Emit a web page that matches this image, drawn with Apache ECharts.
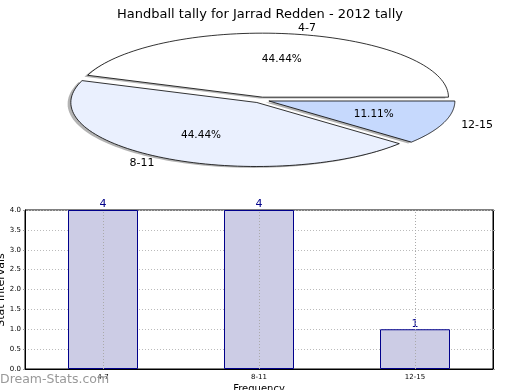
<!DOCTYPE html>
<html>
<head>
<meta charset="utf-8">
<script src="https://cdn.jsdelivr.net/npm/echarts@6/dist/echarts.min.js"></script>
<style>
html,body{margin:0;padding:0;background:#fff;}
#chart{width:520px;height:390px;}
</style>
</head>
<body>
<div id="chart"></div>
<script>
// ---- data ----
const titleText = 'Handball tally for Jarrad Redden - 2012 tally';
const pieLabels = ['4-7', '8-11', '12-15'];
const pieValues = [4, 4, 1];
const barCategories = ['4-7', '8-11', '12-15'];
const barValues = [4, 4, 1];
const yAxisName = 'Stat intervals';
const xAxisName = 'Frequency';
const watermark = 'Dream-Stats.com';

// ---- style ----
const pieColors = ['#ffffff', '#eaf0fe', '#c6d9fd'];
const FONT = 'DejaVu Sans';
const CX = 261, CY = 100, RX = 186, RY = 64, EXPLODE = 0.045;

const total = pieValues.reduce((a, b) => a + b, 0);

function renderPie(params, api) {
  const i = params.dataIndex;
  const v = api.value(0);
  let start = 0;
  for (let k = 0; k < i; k++) start += pieValues[k];
  const a0 = start / total * 2 * Math.PI;
  const a1 = (start + v) / total * 2 * Math.PI;
  const mid = (a0 + a1) / 2;
  const cx = CX + EXPLODE * RX * Math.cos(mid);
  const cy = CY - EXPLODE * RY * Math.sin(mid);
  const pts = [[cx, cy]];
  const n = 80;
  for (let j = 0; j <= n; j++) {
    const a = a0 + (a1 - a0) * j / n;
    pts.push([cx + RX * Math.cos(a), cy - RY * Math.sin(a)]);
  }
  const sdx = -3.2, sdy = 1.4;
  const spts = pts.map(p => [p[0] + sdx, p[1] + sdy]);
  const lx = cx + 1.1 * RX * Math.cos(mid), ly = cy - 1.1 * RY * Math.sin(mid);
  const px = cx + 0.6 * RX * Math.cos(mid), py = cy - 0.6 * RY * Math.sin(mid);
  return {
    type: 'group',
    children: [
      { type: 'polygon', z2: 1, shape: { points: spts }, style: { fill: '#8a8a8a', opacity: 0.65 } },
      { type: 'polygon', z2: 5, shape: { points: pts }, style: { fill: pieColors[i], stroke: '#000', lineWidth: 0.8 } },
      { type: 'text', z2: 10, style: { x: lx, y: ly, text: pieLabels[i], fill: '#000', font: '11px "' + FONT + '"',
        align: Math.cos(mid) > 0 ? 'left' : 'right', verticalAlign: 'middle' } },
      { type: 'text', z2: 10, style: { x: px, y: py, text: (v / total * 100).toFixed(2) + '%', fill: '#000',
        font: '10.5px "' + FONT + '"', align: 'center', verticalAlign: 'middle' } }
    ]
  };
}

const chart = echarts.init(document.getElementById('chart'), null, { renderer: 'canvas' });
chart.setOption({
  animation: false,
  backgroundColor: '#fff',
  textStyle: { fontFamily: FONT },
  title: {
    text: titleText, left: 'center', top: 3,
    textStyle: { fontFamily: FONT, fontSize: 13, fontWeight: 'normal', color: '#000' }
  },
  graphic: [{
    type: 'text', left: 0, top: 373, z: 100,
    style: { text: watermark, fill: '#999', font: '12.5px "' + FONT + '"' }
  }, {
    type: 'text', x: 1, y: 290, rotation: Math.PI / 2, z: 100,
    style: { text: yAxisName, fill: '#000', font: '11px "' + FONT + '"', align: 'center', verticalAlign: 'middle' }
  }],
  grid: {
    left: 25, right: 27, top: 210, bottom: 21,
    outerBoundsMode: 'none', containLabel: false,
    show: true, borderColor: '#000', borderWidth: 1, backgroundColor: '#fff'
  },
  xAxis: {
    type: 'category', data: barCategories,
    name: xAxisName, nameLocation: 'middle', nameGap: 15,
    nameTextStyle: { fontFamily: FONT, fontSize: 10, color: '#000' },
    axisLine: { show: true, lineStyle: { color: '#000' } },
    axisTick: { show: false },
    axisLabel: { fontFamily: FONT, fontSize: 7, color: '#000', margin: 5 },
    splitLine: { show: false }
  },
  yAxis: [{
    type: 'value', min: 0, max: 4, interval: 0.5,
    axisLine: { show: true, lineStyle: { color: '#000' } },
    axisTick: { show: true, length: 2, lineStyle: { color: '#999' } },
    axisLabel: { fontFamily: FONT, fontSize: 7, color: '#000', margin: 4, formatter: v => v.toFixed(1) },
    splitLine: { show: true, lineStyle: { color: '#bbb', type: [1, 2], width: 1 } }
  }, {
    type: 'value', min: 0, max: 4, interval: 0.5, position: 'right',
    axisLine: { show: true, lineStyle: { color: '#000' } },
    axisTick: { show: true, length: 2, lineStyle: { color: '#999' } },
    axisLabel: { show: false },
    splitLine: { show: false }
  }],
  series: [{
    type: 'custom',
    coordinateSystem: 'none',
    renderItem: renderPie,
    data: pieValues.map(v => [v]),
    silent: true
  }, {
    type: 'bar',
    data: barValues,
    barWidth: 70,
    itemStyle: { color: '#ccccE5', borderColor: '#00008b', borderWidth: 1 },
    label: { show: true, position: 'top', distance: 0, color: '#00008b', fontFamily: FONT, fontSize: 11 },
    markLine: {
      silent: true, symbol: 'none', label: { show: false },
      lineStyle: { color: '#aaa', type: [1, 2], width: 1 },
      data: barCategories.map(c => ({ xAxis: c }))
    }
  }]
});
</script>
</body>
</html>
